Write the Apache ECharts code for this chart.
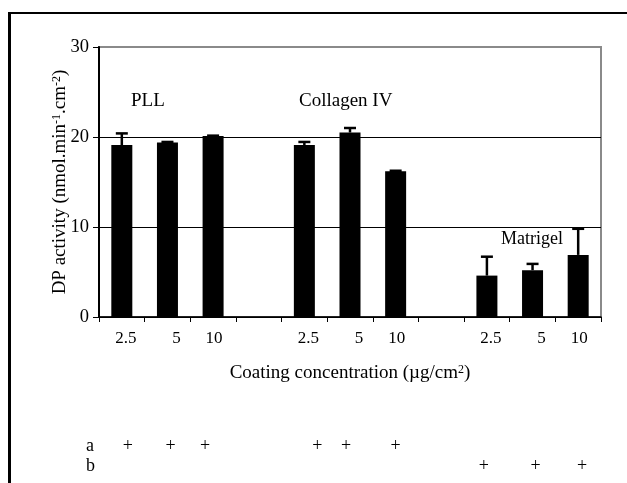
<!DOCTYPE html>
<html>
<head>
<meta charset="utf-8">
<script src="https://cdn.jsdelivr.net/npm/echarts@6/dist/echarts.min.js"></script>
<style>
  html, body { margin: 0; padding: 0; background: #fff; }
  #chart { width: 627px; height: 483px; }
</style>
</head>
<body>
<div id="chart"></div>
<script>
// Coating concentrations (µg/cm²) for the three substrates, blank slots separate the groups
const categories = ['2.5', '5', '10', '', '2.5', '5', '10', '', '2.5', '5', '10'];
// DP activity (nmol.min-1.cm-2), mean per coating
const activity = [19.1, 19.4, 20.1, null, 19.1, 20.5, 16.2, null, 4.6, 5.2, 6.9];
// Upper error (SD)
const errors = [1.3, 0.05, 0.05, null, 0.35, 0.5, 0.05, null, 2.1, 0.7, 2.9];
// Coating group names
const groups = ['PLL', 'Collagen IV', 'Matrigel'];
// Condition rows shown under the axis
const rowA = [1, 1, 1, 0, 1, 1, 1, 0, 0, 0, 0];
const rowB = [0, 0, 0, 0, 0, 0, 0, 0, 1, 1, 1];
const yTicks = [0, 10, 20, 30];

const FONT = "'Liberation Serif', 'Times New Roman', serif";

// small horizontal shifts of the tick labels and plus signs
const labelPad = { '2.5': 8, '5': 18, '10': 2 };
const plusShiftA = [6, 3, -8, 0, 13, -4, 0, 0, 0, 0, 0];
const plusShiftB = [0, 0, 0, 0, 0, 0, 0, 0, -3, 3, 4];

const chart = echarts.init(document.getElementById('chart'), null, { renderer: 'canvas' });

const errData = activity.map((v, i) => v == null ? null : [i, v, v + errors[i]]);

const tickRich = {};
Object.keys(labelPad).forEach((k, n) => {
  tickRich['t' + n] = { fontFamily: FONT, fontSize: 17, color: '#000', padding: [0, 0, 0, labelPad[k]] };
});
const tickKey = v => 't' + Object.keys(labelPad).indexOf(v);

const option = {
  animation: false,
  backgroundColor: '#fff',
  grid: {
    left: 99, right: 26, top: 47, bottom: 166,
    show: true, borderColor: '#8a8a8a', borderWidth: 2, backgroundColor: 'transparent'
  },
  xAxis: {
    type: 'category',
    data: categories,
    boundaryGap: true,
    axisLine: { lineStyle: { color: '#000', width: 1.5 } },
    axisTick: { show: true, interval: 0, length: 5, lineStyle: { color: '#000', width: 1 } },
    axisLabel: {
      interval: 0,
      margin: 13,
      color: '#000',
      fontFamily: FONT,
      fontSize: 17,
      formatter: v => v === '' ? '' : '{' + tickKey(v) + '|' + v + '}',
      rich: tickRich
    },
    name: 'Coating concentration (µg/cm{s|2})',
    nameLocation: 'middle',
    nameGap: 47,
    nameMoveOverlap: false,
    nameTextStyle: {
      color: '#000', fontFamily: FONT, fontSize: 19,
      rich: { s: { fontFamily: FONT, fontSize: 12, color: '#000', padding: [0, 0, 7, 0] } }
    },
    splitLine: { show: false }
  },
  yAxis: {
    type: 'value',
    min: yTicks[0], max: yTicks[yTicks.length - 1], interval: 10,
    axisLine: { show: true, lineStyle: { color: '#000', width: 2 } },
    axisTick: { show: true, length: 6, lineStyle: { color: '#000', width: 1 } },
    axisLabel: { color: '#000', fontFamily: FONT, fontSize: 18.5, margin: 10 },
    splitLine: { show: true, lineStyle: { color: ['#000', '#000', '#000', '#8a8a8a'], width: 1 } },
    name: 'DP activity (nmol.min{s|-1}.cm{s|-2})',
    nameLocation: 'middle',
    nameGap: 29,
    nameMoveOverlap: false,
    nameTextStyle: {
      color: '#000', fontFamily: FONT, fontSize: 19,
      rich: { s: { fontFamily: FONT, fontSize: 12, color: '#000', padding: [0, 0, 7, 0] } }
    }
  },
  series: [
    {
      type: 'bar',
      data: activity,
      barWidth: 21,
      itemStyle: { color: '#000' },
      z: 3
    },
    {
      type: 'custom',
      data: errData.filter(d => d),
      z: 4,
      renderItem: function (params, api) {
        const x = api.value(0);
        const lo = api.coord([x, api.value(1)]);
        const hi = api.coord([x, api.value(2)]);
        const half = 6;
        return {
          type: 'group',
          children: [
            { type: 'line', shape: { x1: lo[0], y1: lo[1], x2: hi[0], y2: hi[1] },
              style: { stroke: '#000', lineWidth: 2.5 } },
            { type: 'line', shape: { x1: hi[0] - half, y1: hi[1], x2: hi[0] + half, y2: hi[1] },
              style: { stroke: '#000', lineWidth: 2.5 } }
          ]
        };
      }
    }
  ]
};

chart.setOption(option);

// Group captions, condition rows and the outer frame
const txt = (s, x, y, size, align) => ({
  type: 'text', x: x, y: y,
  style: { text: s, font: size + 'px ' + FONT, fill: '#000', align: align || 'left', verticalAlign: 'middle' }
});

const graphics = [
  { type: 'line', shape: { x1: 9.5, y1: 12, x2: 9.5, y2: 483 }, style: { stroke: '#000', lineWidth: 3 } },
  { type: 'line', shape: { x1: 8, y1: 13, x2: 627, y2: 13 }, style: { stroke: '#000', lineWidth: 2 } },
  txt(groups[0], 131, 101, 19),
  txt(groups[1], 299, 101, 19),
  txt(groups[2], 501, 239, 18),
  txt('a', 86, 446, 18),
  txt('b', 86, 466, 18)
];

function addPlus(flags, shifts, y) {
  flags.forEach((f, i) => {
    if (!f) return;
    const px = chart.convertToPixel({ xAxisIndex: 0 }, i) + shifts[i];
    graphics.push(txt('+', px, y, 18, 'center'));
  });
}
addPlus(rowA, plusShiftA, 446);
addPlus(rowB, plusShiftB, 466);

chart.setOption({ graphic: graphics });
</script>
</body>
</html>
